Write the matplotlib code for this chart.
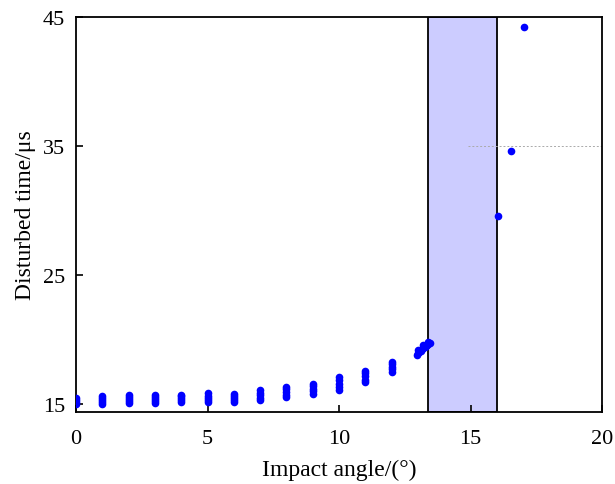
import numpy as np
from matplotlib import pyplot as plt

plt.rcParams['font.family'] = ['Liberation Serif', 'DejaVu Serif']

# disturbed time clusters at integer impact angles
angles = [0, 1, 2, 3, 4, 5, 6, 7, 8, 9, 10, 11, 12]
times = [
    [15.05, 15.2, 15.35, 15.5],
    [15.05, 15.2, 15.35, 15.5, 15.65],
    [15.1, 15.25, 15.4, 15.55, 15.7],
    [15.1, 15.25, 15.4, 15.55, 15.7],
    [15.15, 15.3, 15.45, 15.6, 15.75],
    [15.2, 15.35, 15.5, 15.65, 15.85],
    [15.15, 15.3, 15.45, 15.6, 15.8],
    [15.35, 15.5, 15.7, 15.9, 16.1],
    [15.55, 15.75, 15.95, 16.15, 16.35],
    [15.8, 16.0, 16.2, 16.4, 16.6],
    [16.1, 16.35, 16.6, 16.85, 17.1],
    [16.7, 16.9, 17.15, 17.4, 17.6],
    [17.5, 17.7, 17.9, 18.1, 18.3],
]

# dense points just before the transition zone
near_x = [12.95, 13.0, 13.05, 13.1, 13.15, 13.2, 13.25, 13.3, 13.35, 13.4, 13.45, 13.0, 13.2, 13.4]
near_y = [18.8, 18.95, 19.05, 19.15, 19.25, 19.35, 19.45, 19.5, 19.6, 19.65, 19.75, 19.2, 19.55, 19.8]

# points after the transition zone
far_x = [16.05, 16.55, 17.05]
far_y = [29.6, 34.6, 44.2]

band = (13.4, 16.0)

xs = []
ys = []
for a, t in zip(angles, times):
    xs += [a] * len(t)
    ys += t
xs += near_x + far_x
ys += near_y + far_y

fig = plt.figure(figsize=(6.15, 4.85), dpi=100)
ax = fig.add_axes([0.1236, 0.1485, 0.8554, 0.8145])

ax.axvspan(band[0], band[1], facecolor='#ccccff', edgecolor='black', linewidth=1.3, zorder=1)
ax.plot([14.9, 20], [35, 35], color='#aaaaaa', linestyle=(0, (2, 2)), linewidth=0.7, zorder=1)

ax.plot(xs, ys, 'o', color='#0000ff', markersize=5.5, markeredgewidth=0, zorder=3)

ax.set_xlim(0, 20)
ax.set_ylim(14.4, 45)
ax.set_xticks([0, 5, 10, 15, 20])
ax.set_yticks([15, 25, 35, 45])
ax.tick_params(direction='in', labelsize=16, length=5, width=1.2)
ax.tick_params(axis='x', pad=12)
ax.tick_params(axis='y', pad=8)

for s in ax.spines.values():
    s.set_linewidth(1.3)

ax.set_xlabel('Impact angle/(°)', fontsize=17, labelpad=8)
ax.set_ylabel('Disturbed time/μs', fontsize=17, labelpad=5)

plt.savefig('out.png', dpi=100)
